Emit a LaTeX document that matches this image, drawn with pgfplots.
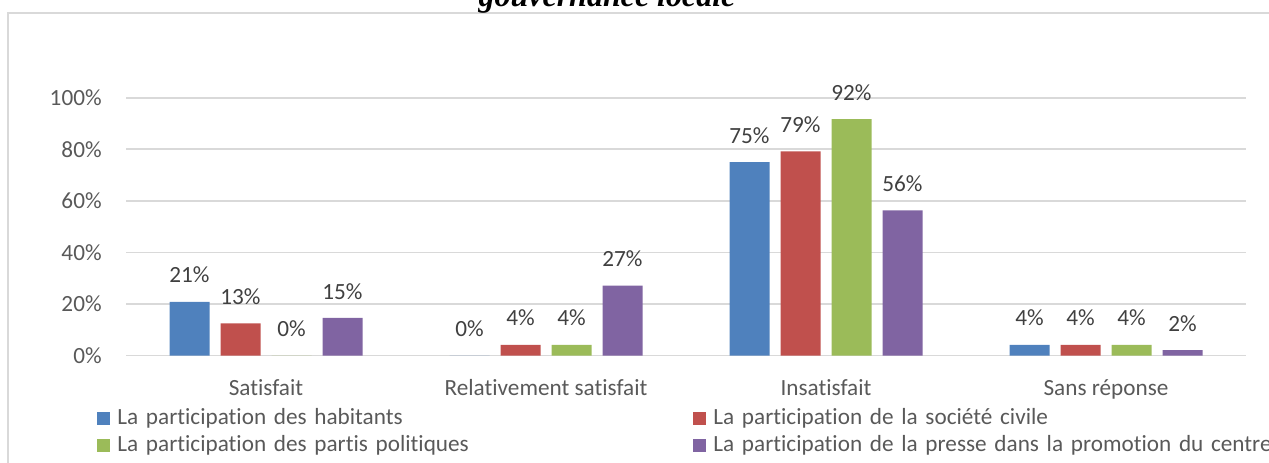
\documentclass[border=0pt]{standalone}
\usepackage{pgfplots}
\pgfplotsset{compat=1.18}
\usepackage{fontspec}
\setmainfont{Carlito}[Ligatures=NoCommon]
\newfontfamily\titlefont{Liberation Serif}

\definecolor{cBlue}{HTML}{4F81BD}
\definecolor{cRed}{HTML}{C0504D}
\definecolor{cGreen}{HTML}{9BBB59}
\definecolor{cPurple}{HTML}{8064A2}
\definecolor{gridgray}{HTML}{D9D9D9}
\definecolor{labelgray}{HTML}{595959}
\definecolor{valgray}{HTML}{404040}

\begin{document}
\fontsize{11.6}{14}\selectfont
\begin{tikzpicture}
% frame and (clipped) title
\draw[gridgray, line width=0.75pt] (4pt,-2pt) -- (4pt,224.5pt) -- (640pt,224.5pt);
\node[font=\titlefont\bfseries\itshape\fontsize{16}{18}\selectfont, anchor=base] at (303.5pt,228pt) {gouvernance locale};

\begin{axis}[
    at={(63pt,53.25pt)}, anchor=south west,
    scale only axis, width=560pt, height=128.9pt,
    xmin=-0.5, xmax=3.5, ymin=0, ymax=100,
    enlargelimits=false, clip=false,
    axis line style={draw=none}, tick style={draw=none},
    ymajorgrids, grid style={gridgray, line width=0.8pt},
    ytick={0,20,40,60,80,100},
    yticklabels={0\%,20\%,40\%,60\%,80\%,100\%},
    yticklabel style={anchor=base east, inner sep=0pt, xshift=-12pt, yshift=-4pt, text=labelgray},
    xtick={0,1,2,3},
    xticklabels={Satisfait, Relativement satisfait, Insatisfait, Sans réponse},
    xticklabel style={anchor=base, inner sep=0pt, yshift=-15.75pt, text=labelgray},
    ybar=5.5pt, bar width=20pt,
    /pgf/number format/assume math mode=true,
    nodes near coords={\pgfmathprintnumber[fixed,precision=0]{\pgfplotspointmeta}\%},
    every node near coord/.append style={inner sep=0pt, yshift=9.15pt, text=valgray},
    legend columns=2,
    legend cell align=left,
    legend image code/.code={\fill[#1] (0pt,-3.25pt) rectangle (6.5pt,3.25pt);},
    legend style={at={(axis description cs:0,0)}, anchor=north west,
        xshift=-14.5pt, yshift=-24.5pt, draw=none, fill=none, inner sep=0pt,
        text=labelgray,
        nodes={inner xsep=3.5pt, inner ysep=1pt, text height=9pt, text depth=2.5pt,
               text width=284.5pt, align=left}},
]
\addplot[fill=cBlue, draw=none] coordinates {(0,20.83) (1,0) (2,75.00) (3,4.17)};
\addlegendentry{La participation des habitants}
\addplot[fill=cRed, draw=none] coordinates {(0,12.50) (1,4.17) (2,79.17) (3,4.17)};
\addlegendentry{La participation de la société civile}
\addplot[fill=cGreen, draw=none] coordinates {(0,0) (1,4.17) (2,91.67) (3,4.17)};
\addlegendentry{La participation des partis politiques}
\addplot[fill=cPurple, draw=none] coordinates {(0,14.58) (1,27.08) (2,56.25) (3,2.08)};
\addlegendentry{La participation de la presse dans la promotion du centre}
\end{axis}

\pgfresetboundingbox
\useasboundingbox (0,0) rectangle (634.5pt,231pt);
\end{tikzpicture}
\end{document}
